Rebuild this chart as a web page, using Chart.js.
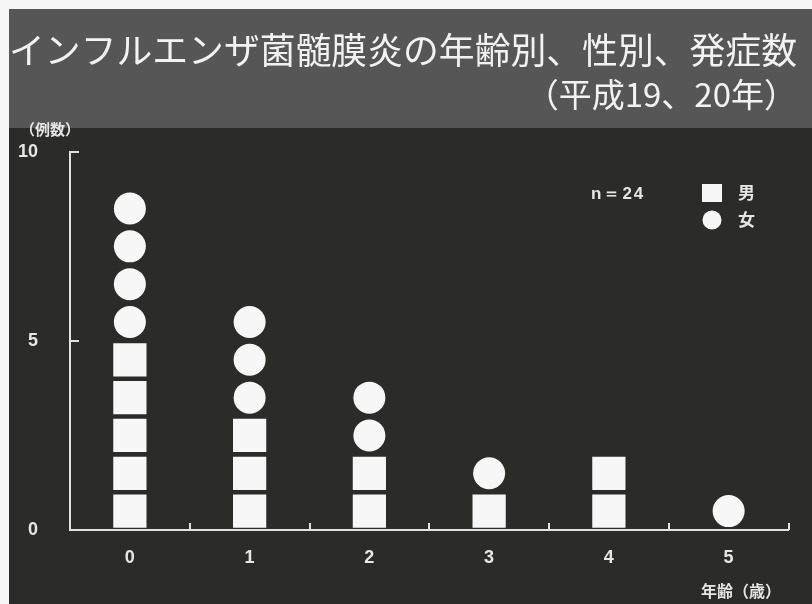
<!DOCTYPE html>
<html lang="ja">
<head>
    <meta charset="UTF-8">
    <title>インフルエンザ菌髄膜炎の年齢別、性別、発症数</title>
    <script src="https://cdn.jsdelivr.net/npm/chart.js"></script>
    <style>
        body { margin: 0; background: #fff; }
        #wrap { width: 812px; height: 604px; }
    </style>
</head>
<body>
    <div id="wrap"><canvas id="myChart"></canvas></div>
    <script>
        // 年齢別の発症数 (平成19、20年)
        const ages = ['0', '1', '2', '3', '4', '5'];
        const maleCounts = [5, 3, 2, 1, 2, 0];
        const femaleCounts = [4, 3, 2, 1, 0, 1];
        const yTicks = [0, 5, 10];

        const sum = arr => arr.reduce((a, b) => a + b, 0);
        const total = sum(maleCounts) + sum(femaleCounts);

        // 1例 = 1マーク、男を下に女をその上に積む
        const malePoints = [];
        const femalePoints = [];
        ages.forEach((age, i) => {
            for (let k = 0; k < maleCounts[i]; k++) {
                malePoints.push({ x: age, y: k + 0.5 });
            }
            for (let k = 0; k < femaleCounts[i]; k++) {
                femalePoints.push({ x: age, y: maleCounts[i] + k + 0.5 });
            }
        });

        const markColor = '#f7f7f7';
        const textColor = '#e6e6e6';
        const lineColor = '#e2e2e2';
        const numFamily = "'Liberation Sans', Arial, sans-serif";
        const numFont = { family: numFamily, size: 18, weight: 'bold' };
        const jpFamily = "'Noto Sans CJK JP', 'Noto Sans', sans-serif";

        // 背景 (タイトル帯とグラフ部分)
        const backdrop = {
            id: 'backdrop',
            beforeDraw(chart) {
                const ctx = chart.ctx;
                ctx.save();
                ctx.fillStyle = '#f6f6f6';
                ctx.fillRect(0, 0, chart.width, chart.height);
                ctx.fillStyle = '#565656';
                ctx.fillRect(9, 9, chart.width - 9, 119);
                ctx.fillStyle = '#2b2c29';
                ctx.fillRect(9, 128, chart.width - 9, chart.height - 128);
                ctx.restore();
            }
        };

        // 内向きの目盛り、軸の単位、凡例
        const marks = {
            id: 'marks',
            afterDraw(chart) {
                const ctx = chart.ctx;
                const x = chart.scales.x;
                const y = chart.scales.y;
                ctx.save();
                ctx.strokeStyle = lineColor;
                ctx.lineWidth = 2;
                ctx.beginPath();
                yTicks.slice(1).forEach(v => {
                    const py = Math.round(y.getPixelForValue(v));
                    ctx.moveTo(x.left, py);
                    ctx.lineTo(x.left + 9, py);
                });
                const step = (x.right - x.left) / ages.length;
                for (let i = 1; i <= ages.length; i++) {
                    const px = Math.round(x.left + i * step);
                    ctx.moveTo(px, y.bottom);
                    ctx.lineTo(px, y.bottom - 7);
                }
                ctx.stroke();

                ctx.fillStyle = textColor;
                ctx.textBaseline = 'middle';
                ctx.textAlign = 'left';
                ctx.font = 'bold 15px ' + jpFamily;
                ctx.fillText('（例数）', 20, 129);
                ctx.font = 'bold 16px ' + jpFamily;
                ctx.fillText('年齢（歳）', 701, 591);

                ctx.font = 'bold 17px ' + numFamily;
                ctx.letterSpacing = '2px';
                ctx.fillText('n＝' + total, 591, 194);
                ctx.letterSpacing = '0px';

                const ds = chart.data.datasets;
                ctx.fillStyle = ds[0].backgroundColor;
                ctx.fillRect(702, 184, 20, 18);
                ctx.fillStyle = ds[1].backgroundColor;
                ctx.beginPath();
                ctx.arc(712, 220, 9.5, 0, Math.PI * 2);
                ctx.fill();

                ctx.fillStyle = textColor;
                ctx.font = 'bold 17px ' + jpFamily;
                ctx.fillText(ds[0].label, 738, 193);
                ctx.fillText(ds[1].label, 738, 220);
                ctx.restore();
            }
        };

        const ctx = document.getElementById('myChart');

        new Chart(ctx, {
            type: 'line',
            data: {
                labels: ages,
                datasets: [{
                    label: '男',
                    data: malePoints,
                    showLine: false,
                    pointStyle: 'rect',
                    pointRadius: 23.5,
                    pointHoverRadius: 23.5,
                    pointBorderWidth: 0,
                    backgroundColor: markColor,
                    borderColor: markColor
                }, {
                    label: '女',
                    data: femalePoints,
                    showLine: false,
                    pointStyle: 'circle',
                    pointRadius: 16,
                    pointHoverRadius: 16,
                    pointBorderWidth: 0,
                    backgroundColor: markColor,
                    borderColor: markColor
                }]
            },
            options: {
                responsive: true,
                maintainAspectRatio: false,
                animation: false,
                events: [],
                layout: { padding: { left: 9, right: 15, top: 0, bottom: 0 } },
                plugins: {
                    legend: { display: false },
                    tooltip: { enabled: false },
                    title: {
                        display: true,
                        text: 'インフルエンザ菌髄膜炎の年齢別、性別、発症数',
                        align: 'start',
                        color: '#f2f2f2',
                        font: { family: jpFamily, size: 36, weight: 'normal', lineHeight: 1.2 },
                        padding: { top: 29, bottom: 0 }
                    },
                    subtitle: {
                        display: true,
                        text: '（平成19、20年）',
                        align: 'end',
                        color: '#f2f2f2',
                        font: { family: jpFamily, size: 33, weight: 'normal', lineHeight: 1.2 },
                        padding: { top: 2, bottom: 38 }
                    }
                },
                scales: {
                    x: {
                        type: 'category',
                        offset: true,
                        grid: { display: false, drawTicks: false },
                        border: { display: true, color: lineColor, width: 2 },
                        ticks: { color: textColor, font: numFont, padding: 17 },
                        afterFit(scale) { scale.height = 74; }
                    },
                    y: {
                        min: 0,
                        max: 10,
                        afterBuildTicks(scale) {
                            scale.ticks = yTicks.map(v => ({ value: v }));
                        },
                        grid: { display: false, drawTicks: false },
                        border: { display: true, color: lineColor, width: 2 },
                        ticks: { color: textColor, font: numFont, padding: 32 },
                        afterFit(scale) { scale.width = 61; }
                    }
                }
            },
            plugins: [backdrop, marks]
        });
    </script>
</body>
</html>
